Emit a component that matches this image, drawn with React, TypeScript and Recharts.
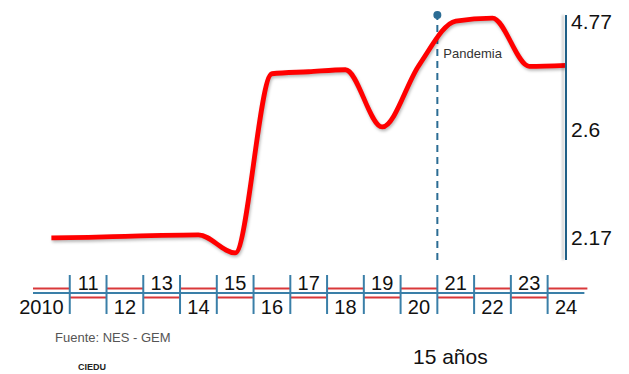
import React from 'react';
import { LineChart, Line, XAxis, YAxis, ReferenceLine, ReferenceDot } from 'recharts';

// ---- data ----
const years = [2010, 2011, 2012, 2013, 2014, 2015, 2016, 2017, 2018, 2019, 2020, 2021, 2022, 2023, 2024];
const xTickLabels = ['2010', '11', '12', '13', '14', '15', '16', '17', '18', '19', '20', '21', '22', '23', '24'];
const indexValues = [2.17, 2.172, 2.176, 2.18, 2.182, 2.11, 3.73, 3.77, 3.81, 2.66, 3.9, 4.79, 4.85, 3.88, 3.9];
const yTickValues = [2.17, 2.6, 4.77];
const yTickLabels = ['2.17', '2.6', '4.77'];
const pandemicYear = 2020.5;
const pandemicLabel = 'Pandemia';
const sourceText = 'Fuente: NES - GEM';
const brandText = 'CIEDU';
const spanText = '15 años';

// ---- uneven value scale: every labelled step of the right axis gets the same height ----
const toLevel = (v: number): number => {
  const n = yTickValues.length;
  for (let i = 0; i < n - 1; i++) {
    const a = yTickValues[i];
    const b = yTickValues[i + 1];
    if (v <= b || i === n - 2) return i + (v - a) / (b - a);
  }
  return 0;
};
const levelTicks = yTickValues.map((_, i) => i);

const data = years.map((year, i) => ({ year, level: toLevel(indexValues[i]) }));

// ---- layout / style ----
const W = 629;
const H = 374;
const MARGIN = { top: 15, right: 3, left: 33, bottom: 54 };
const Y_AXIS_W = 60;
const X_AXIS_H = 60;
const X_DOMAIN: [number, number] = [2009.5, 2024];
const PLOT_W = W - MARGIN.left - MARGIN.right - Y_AXIS_W;
const HALF_CELL = PLOT_W / (X_DOMAIN[1] - X_DOMAIN[0]) / 2;
const AXIS_DROP = 33;
const FONT = '"Liberation Sans", Arial, sans-serif';
const BLUE = '#3a7fa8';
const DARK_BLUE = '#1f5f86';
const RED = '#d9383a';
const LINE_RED = '#ff0000';

const YearTick = (props: any) => {
  const { x, y, payload } = props;
  const i = years.indexOf(payload.value);
  if (i < 0) return null;
  const w = HALF_CELL;
  const B = y + AXIS_DROP;
  const first = i === 0;
  const up = i % 2 === 1;
  return (
    <g>
      <line x1={x - w} x2={x + w} y1={B} y2={B} stroke={BLUE} strokeWidth={2} />
      <line x1={x - w} x2={x + w + (i === years.length - 1 ? 3 : 0)} y1={up ? B + 4.5 : B - 4.5} y2={up ? B + 4.5 : B - 4.5} stroke={RED} strokeWidth={2} />
      {!first && <line x1={x - w} x2={x - w} y1={B - 18} y2={B + 21} stroke={BLUE} strokeWidth={2} />}
      <text
        x={first ? x + w - 6 : x}
        y={up ? B - 3 : B + 21}
        textAnchor={first ? 'end' : 'middle'}
        fontSize={20}
        fontFamily={FONT}
        fill="#111"
      >
        {xTickLabels[i]}
      </text>
    </g>
  );
};

const PandemiaLabel = (props: any) => {
  const vb = props.viewBox || {};
  return (
    <text x={(vb.x || 0) + 6} y={(vb.y || 0) + 43} fontSize={13} fontFamily={FONT} fill="#333">
      {pandemicLabel}
    </text>
  );
};

export default function App() {
  return (
    <div style={{ position: 'absolute', left: 0, top: 0, width: W, height: H, background: '#fff', fontFamily: FONT }}>
      <style>{`
        .recharts-line-curve { filter: drop-shadow(1px 2px 1.5px rgba(0,0,0,0.28)); }
        .recharts-yAxis .recharts-cartesian-axis-line { filter: drop-shadow(-3px 0px 1px rgba(0,0,0,0.2)); }
      `}</style>
      <LineChart width={W} height={H} data={data} margin={MARGIN}>
        <XAxis
          dataKey="year"
          type="number"
          domain={X_DOMAIN}
          ticks={years}
          interval={0}
          allowDataOverflow
          axisLine={false}
          tickLine={false}
          tickSize={0}
          tickMargin={0}
          height={X_AXIS_H}
          tick={<YearTick />}
        />
        <YAxis
          orientation="right"
          type="number"
          domain={[-0.205, 2.065]}
          ticks={levelTicks}
          allowDataOverflow
          width={Y_AXIS_W}
          axisLine={{ stroke: DARK_BLUE, strokeWidth: 2 }}
          tickLine={false}
          tickSize={0}
          tickMargin={5}
          tickFormatter={(v: number) => yTickLabels[Math.round(v)] ?? ''}
          tick={{ fontSize: 21, fill: '#111', fontFamily: FONT }}
        />
        <ReferenceLine
          x={pandemicYear}
          stroke="#2b6c94"
          strokeWidth={2}
          strokeDasharray="7 5"
          label={<PandemiaLabel />}
        />
        <ReferenceDot x={pandemicYear} y={2.065} r={4} fill="#2b6c94" stroke="none" ifOverflow="visible" />
        <Line
          type="monotone"
          dataKey="level"
          stroke={LINE_RED}
          strokeWidth={4.8}
          dot={false}
          activeDot={false}
          isAnimationActive={false}
        />
      </LineChart>
      <div style={{ position: 'absolute', left: 55, top: 330, fontSize: 13, color: '#555', whiteSpace: 'nowrap' }}>{sourceText}</div>
      <div style={{ position: 'absolute', left: 78, top: 362, fontSize: 9, fontWeight: 'bold', color: '#222', whiteSpace: 'nowrap' }}>{brandText}</div>
      <div style={{ position: 'absolute', left: 413, top: 345, fontSize: 21, color: '#111', whiteSpace: 'nowrap' }}>{spanText}</div>
    </div>
  );
}
